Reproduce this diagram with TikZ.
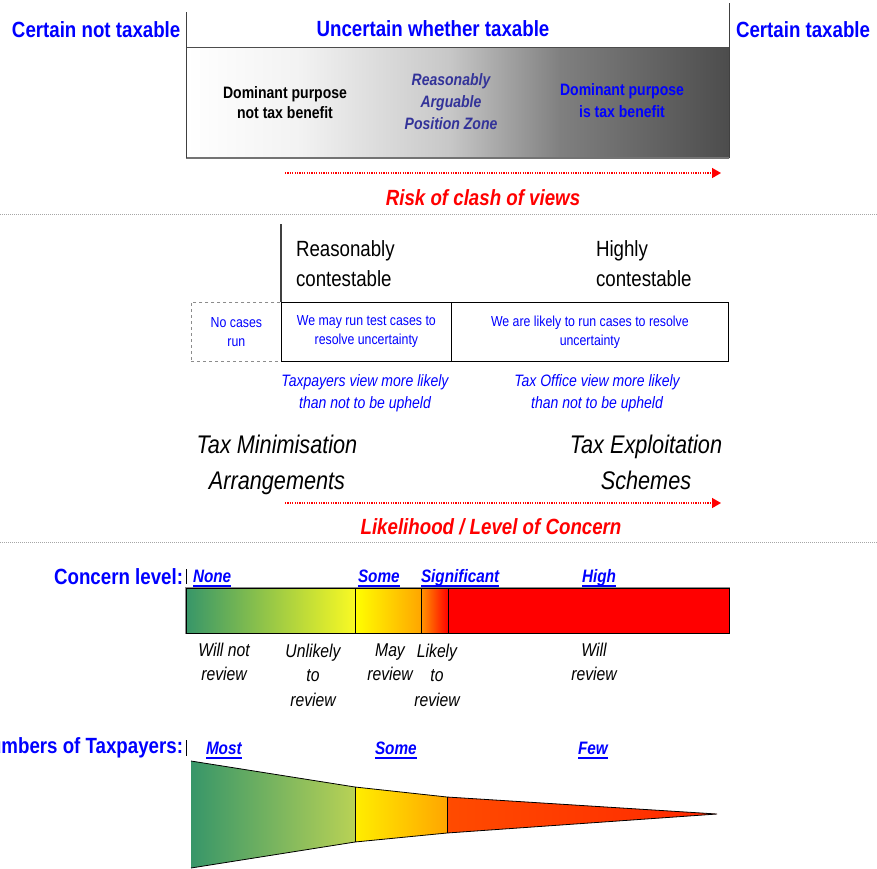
\documentclass[tikz,border=0pt]{standalone}
\usepackage{fontspec}
\setmainfont{Liberation Sans}[FakeStretch=0.85]
\usetikzlibrary{arrows.meta}

\definecolor{tblue}{RGB}{0,0,255}
\definecolor{slate}{RGB}{51,51,153}
\definecolor{tred}{RGB}{255,0,0}
\definecolor{gteal}{RGB}{55,150,105}
\definecolor{glime}{RGB}{250,250,35}
\definecolor{gyel}{RGB}{255,255,0}
\definecolor{gorange}{RGB}{255,165,0}
\definecolor{gorange2}{RGB}{255,150,0}
\definecolor{folive}{RGB}{185,210,85}
\definecolor{fyel}{RGB}{255,238,0}
\definecolor{fred1}{RGB}{255,75,0}
\definecolor{fred2}{RGB}{255,40,0}

\newcommand\fsz[2]{\fontsize{#1}{#2}\selectfont}

\tikzset{
  txt/.style={inner sep=0pt, outer sep=0pt},
  sepline/.style={draw=black!35, line width=0.8pt, dash pattern=on 1pt off 1pt},
  riskarrow/.style={draw=tred, line width=1.4pt, dash pattern=on 1.2pt off 1.2pt,
    -{Triangle[length=9pt,width=10pt]}},
  headtext/.style={txt, font=\fsz{22}{26}\bfseries, text=tblue},
  redhead/.style={txt, font=\fsz{22}{26}\bfseries\itshape, text=tred},
  casebox/.style={draw=black, line width=0.8pt, minimum height=59pt, inner sep=0pt,
    font=\fsz{14.5}{19}, text=tblue, align=center, anchor=north west},
  viewtext/.style={txt, font=\fsz{16.5}{22}\itshape, text=tblue, align=center},
  bigital/.style={txt, font=\fsz{25.5}{36}\itshape, align=center},
  lvl/.style={txt, font=\fsz{18}{20}\bfseries\itshape, text=tblue, anchor=base west},
  ulline/.style={draw=tblue, line width=2pt},
  revtext/.style={txt, font=\fsz{18.5}{24.5}\itshape, align=center},
  outline/.style={draw=black, line width=0.8pt},
}

\begin{document}
\begin{tikzpicture}[x=1pt,y=-1pt]
\useasboundingbox (0,0) rectangle (877,868);

% ---------- taxability band ----------
\node[headtext, anchor=west] (cnt) at (12,30) {Certain not taxable};
\node[headtext] (uwt) at (433,29) {Uncertain whether taxable};
\node[headtext, anchor=west] (ct) at (736,30) {Certain taxable};

% grey ramp of the purpose box
\shade[left color=white, right color=black!5] (186,47) rectangle (300.5,158);
\shade[left color=black!5, right color=black!22] (300,47) rectangle (450.5,158);
\shade[left color=black!22, right color=black!50] (450,47) rectangle (560.5,158);
\shade[left color=black!50, right color=black!70] (560,47) rectangle (729,158);
\draw[black!70, line width=0.8pt] (186,47) -- (729,47);
\draw[black!55, line width=2.2pt] (186,158) -- (729,158);
\draw[black!75, line width=1pt] (186,12) -- (186,158);
\draw[black!75, line width=1pt] (729,3) -- (729,158);

\node[txt, font=\fsz{16.5}{20}\bfseries, align=center] (dpn) at (285,103)
  {Dominant purpose\\not tax benefit};
\node[txt, font=\fsz{16.5}{22}\bfseries\itshape, text=slate, align=center] (rap) at (451,102)
  {Reasonably\\Arguable\\Position Zone};
\node[txt, font=\fsz{16.5}{22}\bfseries, text=tblue, align=center] (dpi) at (622,101)
  {Dominant purpose\\is tax benefit};

\coordinate (r1s) at (285,173);
\coordinate (r1e) at (721,173);
\draw[riskarrow] (r1s) -- (r1e);
\node[redhead] (risk) at (483,198) {Risk of clash of views};

\coordinate (s1a) at (0,214);
\coordinate (s1b) at (877,214);
\draw[sepline] (s1a) -- (s1b);

% ---------- contestability band ----------
\draw[black!75, line width=1.5pt] (281,224) -- (281,302);
\node[txt, font=\fsz{22}{30}, anchor=north west, align=left] (rc) at (296,241)
  {Reasonably\\contestable};
\node[txt, font=\fsz{22}{30}, anchor=north west, align=left] (hc) at (596,241)
  {Highly\\contestable};

\node[casebox, draw=black!45, dashed, minimum width=90pt] (b0) at (191,302) {No cases\\run};
\node[casebox, minimum width=170pt] (b1) at (281,302) {We may run test cases to\\resolve uncertainty};
\node[casebox, minimum width=277pt] (b2) at (451,302) {We are likely to run cases to resolve\\uncertainty};

\node[viewtext] (tpv) at (365,393) {Taxpayers view more likely\\than not to be upheld};
\node[viewtext] (tov) at (597,393) {Tax Office view more likely\\than not to be upheld};

\node[bigital] (tma) at (277,465) {Tax Minimisation\\Arrangements};
\node[bigital] (tes) at (646,462) {Tax Exploitation\\Schemes};

\coordinate (r2s) at (285,503);
\coordinate (r2e) at (721,503);
\draw[riskarrow] (r2s) -- (r2e);
\node[redhead] (lik) at (491,527) {Likelihood / Level of Concern};

\coordinate (s2a) at (0,542);
\coordinate (s2b) at (877,542);
\draw[sepline] (s2a) -- (s2b);

% ---------- concern level bar ----------
\node[headtext, anchor=east] (cl) at (183,577) {Concern level:};
\draw[black, line width=0.6pt] (186,569) -- (186,584);

\node[lvl] (none) at (193,582) {None};
\node[lvl] (some1) at (358,582) {Some};
\node[lvl] (sig) at (421,582) {Significant};
\node[lvl] (high) at (582,582) {High};
\foreach \n in {none,some1,sig,high}
  \draw[ulline] ([yshift=-3.5pt]\n.base west) -- ([yshift=-3.5pt]\n.base east);

\draw[black!45, line width=2.4pt] (186,588) rectangle (729,633);
\shade[left color=gteal, right color=glime] (186,588) rectangle (355.5,633);
\shade[left color=gyel, right color=gorange] (355,588) rectangle (421.5,633);
\shade[left color=gorange2, right color=tred] (421,588) rectangle (448.5,633);
\fill[tred] (448,588) rectangle (729,633);
\draw[outline] (186,588) rectangle (729,633);
\draw[outline] (355,588) -- (355,633);
\draw[outline] (421,588) -- (421,633);
\draw[outline] (448,588) -- (448,633);

\node[revtext] (wnr) at (224,662) {Will not\\review};
\node[revtext] (utr) at (313,675) {Unlikely\\to\\review};
\node[revtext] (mr) at (390,662) {May\\review};
\node[revtext] (ltr) at (437,675) {Likely\\to\\review};
\node[revtext] (wr) at (594,662) {Will\\review};

% ---------- numbers of taxpayers funnel ----------
\node[headtext, anchor=east] (nt) at (183,748) {Numbers of Taxpayers:};
\draw[black, line width=0.6pt] (186,740) -- (186,756);

\node[lvl] (most) at (206,754) {Most};
\node[lvl] (some2) at (375,754) {Some};
\node[lvl] (few) at (578,754) {Few};
\foreach \n in {most,some2,few}
  \draw[ulline] ([yshift=-3.5pt]\n.base west) -- ([yshift=-3.5pt]\n.base east);

\shade[left color=gteal, right color=folive] (191,761) -- (355.5,787) -- (355.5,842) -- (191,868) -- cycle;
\shade[left color=fyel, right color=gorange] (355,787) -- (447.5,797) -- (447.5,833) -- (355,842) -- cycle;
\shade[left color=fred1, right color=fred2] (447,797) -- (717,814) -- (447,833) -- cycle;
\draw[outline] (191,761) -- (355,787) -- (447,797) -- (717,814) -- (447,833) -- (355,842) -- (191,868);
\draw[outline] (355,787) -- (355,842);
\draw[outline] (447,797) -- (447,833);
\end{tikzpicture}
\end{document}
